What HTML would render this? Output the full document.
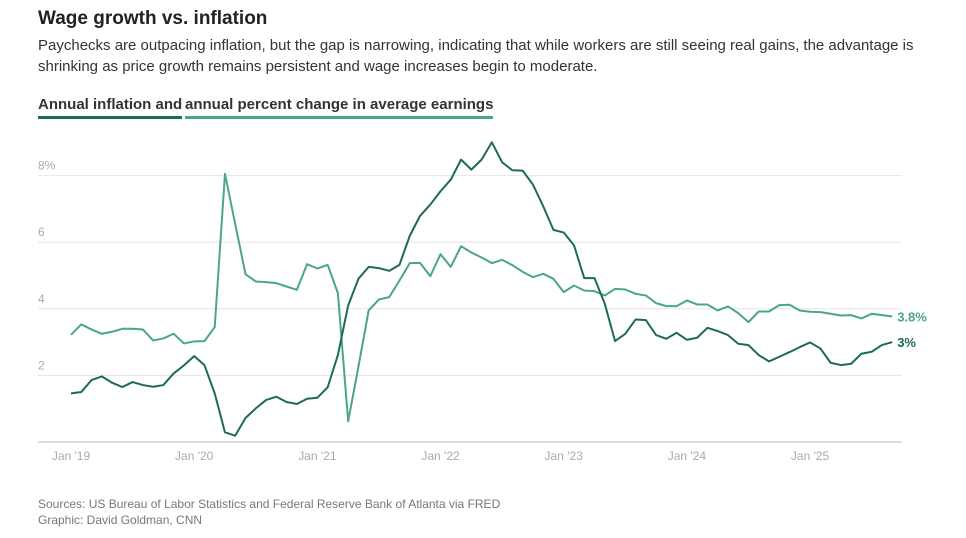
<!DOCTYPE html>
<html><head><meta charset="utf-8"><style>
body{margin:0;background:#fff;font-family:"Liberation Sans",sans-serif;width:966px;height:538px;overflow:hidden;position:relative}
.t{position:absolute;left:38px;top:8px;font-size:19px;font-weight:bold;color:#222}
.d{position:absolute;left:38px;top:35px;width:910px;font-size:15px;line-height:21px;color:#333}
.lg{position:absolute;top:96px;font-size:15px;font-weight:bold;color:#333;padding-bottom:3px}
.src{position:absolute;left:38px;top:496px;font-size:12px;line-height:16px;color:#777}
</style></head><body>
<div class="t">Wage growth vs. inflation</div>
<div class="d">Paychecks are outpacing inflation, but the gap is narrowing, indicating that while workers are still seeing real gains, the advantage is shrinking as price growth remains persistent and wage increases begin to moderate.</div>
<div class="lg" style="left:38px;border-bottom:3px solid #1d6b52">Annual inflation and</div>
<div class="lg" style="left:185px;border-bottom:3px solid #4aa58c">annual percent change in average earnings</div>
<svg id="chart" width="966" height="538" style="position:absolute;left:0;top:0"></svg>
<div class="src">Sources: US Bureau of Labor Statistics and Federal Reserve Bank of Atlanta via FRED<br>Graphic: David Goldman, CNN</div>
<script>
const yTicks=[2,4,6,8];
const xTickLabels=["Jan '19","Jan '20","Jan '21","Jan '22","Jan '23","Jan '24","Jan '25"];
const inflation=[1.46,1.50,1.86,1.97,1.78,1.65,1.80,1.71,1.66,1.71,2.06,2.30,
2.58,2.31,1.46,0.29,0.19,0.72,1.01,1.26,1.36,1.20,1.14,1.30,
1.33,1.64,2.61,4.10,4.90,5.26,5.22,5.14,5.32,6.19,6.79,7.13,
7.53,7.88,8.48,8.18,8.48,9.0,8.40,8.16,8.15,7.73,7.08,6.37,
6.29,5.91,4.92,4.92,4.15,3.03,3.25,3.68,3.66,3.21,3.10,3.28,
3.07,3.13,3.43,3.33,3.21,2.95,2.91,2.61,2.42,2.56,2.70,2.85,
2.99,2.81,2.38,2.31,2.35,2.65,2.71,2.91,3.0];
const earnings=[3.22,3.53,3.38,3.25,3.31,3.40,3.40,3.38,3.05,3.11,3.25,2.96,
3.02,3.03,3.45,8.05,6.54,5.04,4.82,4.80,4.77,4.67,4.57,5.34,
5.21,5.32,4.47,0.62,2.26,3.95,4.28,4.35,4.85,5.37,5.38,4.98,
5.64,5.26,5.88,5.69,5.54,5.37,5.47,5.31,5.11,4.95,5.05,4.90,
4.50,4.70,4.55,4.53,4.40,4.60,4.58,4.45,4.40,4.17,4.08,4.08,
4.25,4.13,4.13,3.95,4.07,3.87,3.60,3.92,3.92,4.11,4.12,3.95,
3.91,3.90,3.85,3.80,3.81,3.71,3.85,3.81,3.77];
const NS="http://www.w3.org/2000/svg";
const svg=document.getElementById('chart');
const x=m=>71+m*10.265, y=v=>442-v*33.3;
function mk(t,a){const e=document.createElementNS(NS,t);for(const k in a)e.setAttribute(k,a[k]);svg.appendChild(e);return e;}
yTicks.forEach((v,i)=>{
 const g=mk('line',{x1:38,x2:902,y1:y(v),y2:y(v),stroke:'#e6e6e6','stroke-width':1});
 
 
 const t=mk('text',{x:38,y:y(v)-6,'font-size':12,fill:'#aaa','font-family':'Liberation Sans,sans-serif'});
 t.textContent=v+(i==yTicks.length-1?'%':'');
 
 
});
const ax=mk('line',{x1:38,x2:902,y1:y(0),y2:y(0),stroke:'#bbb','stroke-width':1});


xTickLabels.forEach((l,i)=>{
 const t=mk('text',{x:x(i*12),y:460,'font-size':12,fill:'#aaa','text-anchor':'middle','font-family':'Liberation Sans,sans-serif'});
 t.textContent=l;
 
 
});
function line(d,c,name){
 const p=mk('polyline',{points:d.map((v,i)=>x(i)+','+y(v)).join(' '),fill:'none',stroke:c,'stroke-width':2,'stroke-linejoin':'round'});
 
 
 const n=d.length-1;
 const t=mk('text',{x:x(n)+5,y:y(d[n])+5,'font-size':13,fill:c,'font-weight':'bold','font-family':'Liberation Sans,sans-serif'});
 t.textContent=(Math.round(d[n]*10)/10)+'%';
 
 
}
line(earnings,'#4aa58c','earnings-line');
line(inflation,'#1d6b52','inflation-line');
</script>
</body></html>
